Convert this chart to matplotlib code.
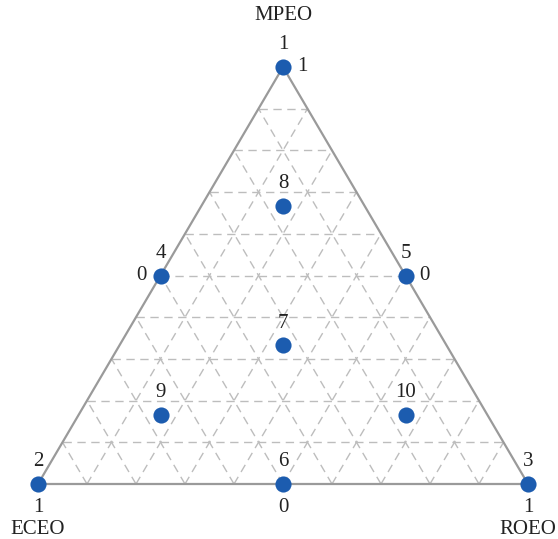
import numpy as np
import matplotlib
matplotlib.use("Agg")
import matplotlib.pyplot as plt

# Simplex-centroid mixture design: fractions of (ECEO, ROEO, MPEO)
run_ids = ["1", "2", "3", "4", "5", "6", "7", "8", "9", "10"]
eceo = [0, 1, 0, 0.5, 0, 0.5, 1/3, 1/6, 2/3, 1/6]
roeo = [0, 0, 1, 0, 0.5, 0.5, 1/3, 1/6, 1/6, 2/3]
mpeo = [1, 0, 0, 0.5, 0.5, 0, 1/3, 2/3, 1/6, 1/6]

component_names = ["ECEO", "ROEO", "MPEO"]
grid_divisions = 10


def to_xy(r, m):
    """Ternary (ROEO, MPEO) -> planar x, y."""
    r = np.asarray(r, dtype=float)
    m = np.asarray(m, dtype=float)
    return r + m / 2.0, m


plt.rcParams["font.family"] = ["Liberation Serif", "DejaVu Serif"]

W, H = 558, 539
fig = plt.figure(figsize=(W / 100, H / 100), dpi=100)
ax = fig.add_axes([38 / W, 55 / H, 490 / W, 417 / H])
ax.set_xlim(0, 1)
ax.set_ylim(0, 1)
ax.axis("off")

grid_kw = dict(color="#bdbdbd", lw=1.0, ls=(0, (6, 4)), zorder=1)
for k in range(1, grid_divisions):
    t = k / grid_divisions
    # constant MPEO
    x, y = to_xy([0, 1 - t], [t, t])
    ax.plot(x, y, **grid_kw)
    # constant ROEO
    x, y = to_xy([t, t], [0, 1 - t])
    ax.plot(x, y, **grid_kw)
    # constant ECEO
    x, y = to_xy([1 - t, 0], [0, 1 - t])
    ax.plot(x, y, **grid_kw)

# triangle outline
x, y = to_xy([0, 1, 0, 0], [0, 0, 1, 0])
ax.plot(x, y, color="#9a9a9a", lw=1.6, zorder=2, clip_on=False)

px, py = to_xy(roeo, mpeo)
ax.scatter(px, py, s=135, color="#1c5caf", zorder=3, clip_on=False, linewidths=0)

fs = 15
for lbl, x0, y0 in zip(run_ids, px, py):
    ax.annotate(lbl, (x0, y0), xytext=(0, 9), textcoords="offset points",
                ha="center", va="bottom", fontsize=fs, color="#222222")

# axis value labels
def side_label(text, r, m, dx, dy, ha="center", va="center"):
    x0, y0 = to_xy(r, m)
    ax.annotate(text, (x0, y0), xytext=(dx, dy), textcoords="offset points",
                ha=ha, va=va, fontsize=fs, color="#222222")

side_label("1", 0, 1, 10, 0, ha="left")
side_label("0", 0, 0.5, -10, 0, ha="right")
side_label("0", 0.5, 0.5, 10, 0, ha="left")
side_label("0", 0.5, 0, 0, -10, va="top")
side_label("1", 0, 0, 0, -10, va="top")
side_label("1", 1, 0, 0, -10, va="top")

# component names
side_label("MPEO", 0, 1, 0, 30, va="bottom")
side_label("ECEO", 0, 0, 0, -26, va="top")
side_label("ROEO", 1, 0, 0, -26, va="top")

fig.savefig("out.png", dpi=100)
